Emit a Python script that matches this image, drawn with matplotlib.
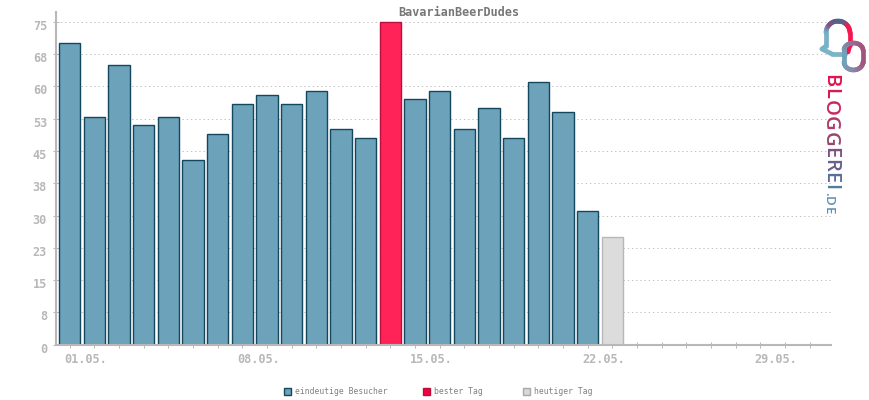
import numpy as np
import matplotlib
matplotlib.use("Agg")
import matplotlib.pyplot as plt
import matplotlib.transforms as mtrans
from matplotlib.collections import LineCollection
from matplotlib.colors import LinearSegmentedColormap
from matplotlib.patches import Rectangle

days = list(range(1, 24))
visitors = [70, 53, 65, 51, 53, 43, 49, 56, 58, 56, 59, 50, 48, 75, 57, 59, 50, 55, 48, 61, 54, 31, 25]
y_ticks = [0, 7.5, 15, 22.5, 30, 37.5, 45, 52.5, 60, 67.5, 75]
y_labels = ["0", "8", "15", "23", "30", "38", "45", "53", "60", "68", "75"]
x_ticks = list(range(1, 32))
x_labels = {1: "01.05.", 8: "08.05.", 15: "15.05.", 22: "22.05.", 29: "29.05."}
legend_names = ["eindeutige Besucher", "bester Tag", "heutiger Tag"]
title = "BavarianBeerDudes"

W, H = 870, 400
grey = "#b8b8b8"
blue, blue_edge = "#6ca3bb", "#14475c"
red, red_edge = "#ff2358", "#b80f3f"
today, today_edge = "#dcdcdc", "#b8b8b8"

plt.rcParams["font.family"] = ["DejaVu Sans Mono"]

fig = plt.figure(figsize=(W / 100, H / 100), dpi=100)
ax = fig.add_axes([55.6 / W, (H - 344.6) / H, 775 / W, 333 / H])

best = visitors.index(max(visitors))
fills = [blue] * len(days)
edges = [blue_edge] * len(days)
fills[best], edges[best] = red, red_edge
fills[-1], edges[-1] = today, today_edge
ax.bar(days, visitors, width=0.87, color=fills, edgecolor=edges, linewidth=1.0, zorder=2)

ax.set_xlim(0.43, 31.85)
ax.set_ylim(0, 77.4)
ax.set_yticks(y_ticks)
ax.set_yticklabels(y_labels)
ax.set_xticks(x_ticks)
ax.set_xticklabels([x_labels.get(d, "") for d in x_ticks])
ax.set_axisbelow(True)
ax.grid(axis="y", color="#c4c4c4", linestyle=(0, (1.4, 2.8)), linewidth=0.72)
ax.tick_params(axis="both", direction="inout", length=4, width=0.72, color=grey,
               labelcolor=grey, labelsize=8.6, pad=2)
for s in ["top", "right"]:
    ax.spines[s].set_visible(False)
for s in ["left", "bottom"]:
    ax.spines[s].set_color(grey)
    ax.spines[s].set_linewidth(1.5)
    ax.spines[s].set_zorder(5)

# labels sit a bit off their ticks in the original
for lab in ax.get_xticklabels():
    lab.set_ha("left")
    lab.set_fontweight("bold")
    lab.set_transform(lab.get_transform() + mtrans.ScaledTranslation(-5.5 / 100, -3 / 100, fig.dpi_scale_trans))
for lab in ax.get_yticklabels():
    lab.set_fontweight("bold")
    lab.set_transform(lab.get_transform() + mtrans.ScaledTranslation(-3 / 100, -3 / 100, fig.dpi_scale_trans))

fig.text(459 / W, 1 - 12 / H, title, ha="center", va="center", fontsize=8.5,
         fontweight="bold", color="#777777")

# overlay in pixel coordinates for legend and logo
ov = fig.add_axes([0, 0, 1, 1], zorder=10)
ov.set_xlim(0, W)
ov.set_ylim(H, 0)
ov.axis("off")

legend_x = [284, 423, 523]
legend_fill = [blue, "#f5003f", "#d8d8d8"]
legend_edge = [blue_edge, red_edge, "#a8a8a8"]
for x, name, f, e in zip(legend_x, legend_names, legend_fill, legend_edge):
    ov.add_patch(Rectangle((x, 388), 7, 7, facecolor=f, edgecolor=e, linewidth=1.0))
    ov.text(x + 11.5, 391.5, name, ha="left", va="center", fontsize=5.8, color="#808080")


def grad_line(pts, cols, lw=3.4):
    pts = np.array(pts)
    cm = LinearSegmentedColormap.from_list("g", cols)
    segs = np.stack([pts[:-1], pts[1:]], axis=1)
    lc = LineCollection(segs, colors=cm(np.linspace(0, 1, len(segs))), linewidth=lw, capstyle="round")
    ov.add_collection(lc)


def arc(cx, cy, rx, ry, a0, a1, n=30):
    t = np.radians(np.linspace(a0, a1, n))
    return list(zip(cx + rx * np.cos(t), cy - ry * np.sin(t)))


# speech bubble part of the logo
bell = [(845, 54), (832, 54), (822, 49), (826, 46)]
bell += arc(838, 33, 12, 12, 180, 0)
bell += [(850, 45), (848, 52)]
grad_line(bell, ["#7fb4c8", "#6fb0c4", "#8a4f7c", "#5a5f8c", "#4a6a90", "#f5174f", "#f5174f"])

# rounded loop
loop = [(844, 56)] + arc(853.5, 50, 9.5, 7, 180, 0, 15) + [(863, 62)] + arc(853.5, 62, 9.5, 8, 0, -180, 15) + [(844, 56)]
grad_line(loop, ["#6fa3bc", "#8a7a9a", "#a0557f", "#a0557f", "#8a88a8", "#6fa3bc"])

letters = list("BLOGGEREI")
letter_cols = ["#e0134f", "#d51a55", "#c82a5c", "#ae3a68", "#96456f", "#7c5080", "#66608c", "#5a6f98", "#4d7e9e"]
renderer = fig.canvas.get_renderer()
y = 74.0
for ch, c in zip(letters, letter_cols):
    t = ov.text(825, y, ch, rotation=-90, rotation_mode="anchor", ha="left", va="baseline",
                fontsize=14.5, family="Open Sans", fontweight="semibold", color=c)
    y += t.get_window_extent(renderer).height + 0.7
y += 1.0
for ch in ".DE":
    t = ov.text(825, y, ch, rotation=-90, rotation_mode="anchor", ha="left", va="baseline",
                fontsize=9.5, family="Open Sans", fontweight="semibold", color="#5b8fb0")
    y += t.get_window_extent(renderer).height + 0.6

fig.savefig("out.png", dpi=100)
